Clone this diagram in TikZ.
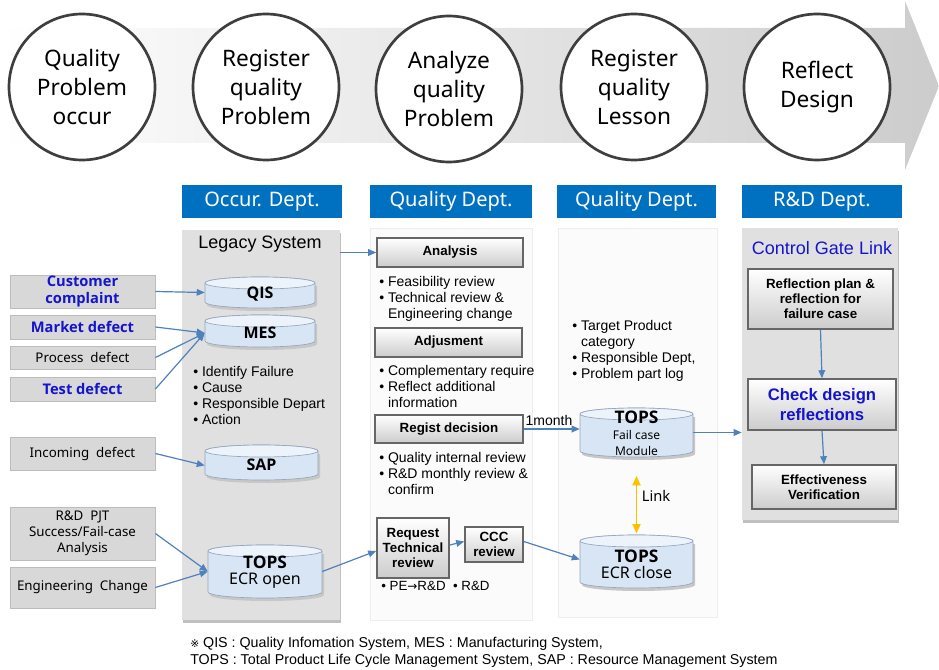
\documentclass[tikz,border=0pt]{standalone}
\usepackage{fontspec}
\setmainfont{Liberation Sans}
\newfontfamily\ns{Noto Sans}
\newfontfamily\nsb{Open Sans}
\newfontfamily\dv{DejaVu Sans}
\usetikzlibrary{arrows.meta,shadows,calc}

\definecolor{hdrblue}{RGB}{0,112,192}
\definecolor{lnblue}{RGB}{79,129,189}
\definecolor{txtblue}{RGB}{20,20,205}
\definecolor{panelgray}{RGB}{224,224,224}
\definecolor{qpanel}{RGB}{251,251,251}
\definecolor{boxgray}{RGB}{216,216,216}
\definecolor{boxedge}{RGB}{188,188,188}
\definecolor{cylbody}{RGB}{216,229,244}
\definecolor{cyltop}{RGB}{236,243,251}
\definecolor{cyledge}{RGB}{150,166,188}
\definecolor{linkyellow}{RGB}{255,192,0}
\definecolor{ringgray}{RGB}{62,62,62}

% node placed by its corner coordinates (in px units)
\newcommand\place[7][]{%
  \node[#1, minimum width={(#5-#3)*0.75pt}, minimum height={(#6-#4)*0.75pt}]
    (#2) at ({(#3+#5)/2},{(#4+#6)/2}) {#7};}

% database cylinder: name, x1, y1, x2, y2, label, label shift
\newcommand\cyl[7]{%
  \begin{scope}[shift={(2,3)}]
    \fill[black!22] (#2,{#3+6}) -- (#2,{#5-6})
      arc[start angle=180,end angle=360,x radius={(#4-#2)*0.375pt},y radius=4.5pt]
      -- (#4,{#3+6}) -- cycle;
  \end{scope}
  \path[fill=cylbody,draw=cyledge,line width=0.5pt] (#2,{#3+6}) -- (#2,{#5-6})
    arc[start angle=180,end angle=360,x radius={(#4-#2)*0.375pt},y radius=4.5pt]
    -- (#4,{#3+6})
    arc[start angle=0,end angle=180,x radius={(#4-#2)*0.375pt},y radius=4.5pt] -- cycle;
  \path[fill=cyltop,draw=cyledge,line width=0.5pt] ({(#2+#4)/2},{#3+6})
    ellipse[x radius={(#4-#2)*0.375pt},y radius=4.5pt];
  \node[inner sep=0pt, minimum width={(#4-#2)*0.75pt}, minimum height={(#5-#3)*0.75pt}]
    (#1) at ({(#2+#4)/2},{(#3+#5)/2}) {};
  \node[align=center, inner sep=0pt, font=\ns] at ({(#2+#4)/2},{(#3+#5)/2+#7}) {#6};}

\tikzset{
  ring/.style={circle, draw=ringgray, line width=2pt, fill=white, align=center,
    inner sep=0pt, minimum size={146*0.75pt}, font=\ns\fontsize{17}{21.75}\selectfont},
  header/.style={fill=hdrblue, text=white, inner sep=0pt, font=\ns\fontsize{15}{17}\selectfont},
  graypanel/.style={fill=panelgray, inner sep=0pt,
    drop shadow={shadow xshift=0.5pt, shadow yshift=-2.5pt, opacity=0.45, fill=black!55}},
  lightpanel/.style={fill=qpanel, draw=black!7, inner sep=0pt},
  srcbox/.style={fill=boxgray, draw=boxedge, line width=0.6pt, inner sep=0pt, align=center,
    font=\ns\fontsize{10}{12}\selectfont},
  srcblue/.style={srcbox, text=txtblue, font=\nsb\bfseries\fontsize{11}{12.5}\selectfont},
  button/.style={top color=white, bottom color=black!20, draw=black!60, line width=1.2pt,
    inner sep=0pt, align=center, font=\bfseries\fontsize{10}{11.25}\selectfont},
  bullets/.style={anchor=north west, inner sep=0pt, align=left,
    font=\fontsize{10.5}{12}\selectfont},
  conn/.style={draw=lnblue, line width=0.9pt, -{Triangle[length=6pt,width=5pt]}},
  linkarrow/.style={draw=linkyellow, line width=1.3pt,
    {Triangle[length=7pt,width=6pt]}-{Triangle[length=7pt,width=6pt]}},
}

\begin{document}
\begin{tikzpicture}[x=0.75pt, y=-0.75pt]
\useasboundingbox (0,0) rectangle (939,670);

% process band
\shade[left color=white, right color=black!20]
  (0,28) -- (905,28) -- (905,1) -- (939,86) -- (905,170) -- (905,143) -- (0,143) -- cycle;

% process steps
\node[ring] (s1) at (82,87) {Quality\\Problem\\occur};
\node[ring] (s2) at (266,87) {Register\\quality\\Problem};
\node[ring] (s3) at (449,89) {Analyze\\quality\\Problem};
\node[ring] (s4) at (634,87) {Register\\quality\\Lesson};
\node[ring] (s5) at (817,87) {Reflect\\Design};

% departments
\place[header]{h1}{182}{185}{342}{218}{Occur. Dept.}
\place[header]{h2}{370}{185}{532}{218}{Quality Dept.}
\place[header]{h3}{557}{185}{716}{218}{Quality Dept.}
\place[header]{h4}{742}{185}{902}{218}{R\&D Dept.}

% columns
\place[graypanel]{occur}{182}{230}{340}{620}{}
\place[lightpanel]{qual}{370}{228}{532}{620}{}
\place[lightpanel]{lesson}{558}{228}{717}{617}{}
\place[graypanel]{rd}{742}{228}{898}{520}{}

\node[font=\fontsize{13.5}{15}\selectfont] (legacy) at (260,244) {Legacy System};
\node[font=\fontsize{13.5}{15}\selectfont, text=txtblue] (gate) at (822,248) {Control Gate Link};

% problem sources
\place[srcblue]{cust}{10}{275}{155}{308}{Customer\\complaint}
\place[srcblue]{market}{10}{315}{155}{339}{Market defect}
\place[srcbox]{process}{10}{346}{155}{369}{Process\ \ defect}
\place[srcblue]{test}{10}{377}{155}{401}{Test defect}
\place[srcbox]{incoming}{10}{437}{155}{470}{Incoming\ \ defect}
\place[srcbox]{rdpjt}{10}{507}{155}{560}{R\&D\ \ PJT\\Success/Fail-case\\Analysis}
\place[srcbox]{engchg}{10}{567}{155}{608}{Engineering\ \ Change}

% systems
\cyl{qis}{205}{277}{315}{308}{\nsb\bfseries\fontsize{12}{14}\selectfont QIS}{2}
\cyl{mes}{205}{315}{315}{347}{\nsb\bfseries\fontsize{12}{14}\selectfont MES}{2}
\cyl{sap}{205}{445}{318}{480}{\nsb\bfseries\fontsize{12}{14}\selectfont SAP}{2}
\cyl{topsopen}{208}{545}{322}{598}{{\nsb\bfseries\fontsize{13}{15}\selectfont TOPS}\\{\fontsize{12}{14}\selectfont ECR open}}{1}
\cyl{topsfail}{580}{408}{693}{457}{{\nsb\bfseries\fontsize{13}{14}\selectfont TOPS}\\{\fontsize{9}{10.5}\selectfont Fail case}\\{\fontsize{9}{10.5}\selectfont Module}}{1}
\cyl{topsclose}{580}{535}{693}{588}{{\nsb\bfseries\fontsize{13}{15}\selectfont TOPS}\\{\fontsize{12}{14}\selectfont ECR close}}{3}

\node[bullets] (occurlist) at (193,366) {%
  \textbullet\ Identify Failure\\\textbullet\ Cause\\\textbullet\ Responsible Depart\\\textbullet\ Action};

% quality analysis
\place[button]{analysis}{377}{238}{523}{267}{Analysis}
\node[bullets] (list1) at (379,276) {%
  \textbullet\ Feasibility review\\\textbullet\ Technical review \&\\\phantom{\textbullet\ }Engineering change};
\place[button]{adjust}{375}{328}{522}{357}{Adjusment}
\node[bullets] (list2) at (379,365) {%
  \textbullet\ Complementary require\\\textbullet\ Reflect additional\\\phantom{\textbullet\ }information};
\place[button]{regist}{375}{415}{523}{443}{Regist decision}
\node[bullets] (list3) at (379,452) {%
  \textbullet\ Quality internal review\\\textbullet\ R\&D monthly review \&\\\phantom{\textbullet\ }confirm};
\place[button]{request}{377}{518}{449}{578}{Request\\Technical\\review}
\place[button]{ccc}{465}{527}{523}{562}{CCC\\review}
\node[bullets, font=\fontsize{10}{12}\selectfont] (list4) at (381,581) {%
  \textbullet\ PE{\dv\fontsize{9}{12}\selectfont→}R\&D\ \ \textbullet\ R\&D};

% lesson register
\node[bullets] (list5) at (572,320) {%
  \textbullet\ Target Product\\\phantom{\textbullet\ }category\\\textbullet\ Responsible Dept,\\\textbullet\ Problem part log};

% design reflection
\place[button]{reflplan}{748}{269}{893}{329}{Reflection plan \&\\reflection for\\failure case}
\place[button, text=txtblue, font=\bfseries\fontsize{12.5}{15}\selectfont]{check}{748}{379}{896}{430}{Check design\\reflections}
\place[button]{effect}{752}{465}{896}{509}{Effectiveness\\Verification}

% connectors
\draw[conn] (cust.east) -- (qis.west);
\draw[conn] (market.east) -- ($(mes.west)+(0,2)$);
\draw[conn] (process.east) -- ($(mes.west)+(0,2)$);
\draw[conn] (test.east) -- ($(mes.west)+(0,2)$);
\draw[conn] (incoming.east) -- ($(sap.west)+(0,3)$);
\draw[conn] (rdpjt.east) -- (topsopen.west);
\draw[conn] (engchg.east) -- (topsopen.west);
\draw[conn] (occur.east |- analysis.west) -- (analysis.west);
\draw[conn] (topsopen.east) -- ($(request.west)+(0,3)$);
\draw[conn] ($(request.east)+(0,-3)$) -- ($(ccc.west)+(0,-3)$);
\draw[conn] ($(ccc.east)+(0,-3)$) -- ($(topsclose.west)+(0,-2)$);
\draw[conn] (regist.east) -- node[above, font=\fontsize{10.5}{12}\selectfont, pos=0.45, yshift=-1pt] {1month} (topsfail.west |- regist.east);
\draw[conn] (topsfail.east) -- (topsfail.east -| rd.west);
\draw[conn] (reflplan.south) -- (check.north);
\draw[conn] (check.south) -- (effect.north);
\draw[linkarrow, shorten <=14pt, shorten >=1pt] (topsfail.south) -- node[right, font=\ns\fontsize{11}{13}\selectfont] {Link} (topsclose.north);

% legend
\node[anchor=west, align=left, inner sep=0pt, font=\fontsize{10.7}{12.75}\selectfont] (legend) at (190,652) {%
  {\dv\fontsize{8}{10}\selectfont ※}\ QIS : Quality Infomation System, MES : Manufacturing System,\\
  TOPS : Total Product Life Cycle Management System, SAP : Resource Management System};
\end{tikzpicture}
\end{document}
